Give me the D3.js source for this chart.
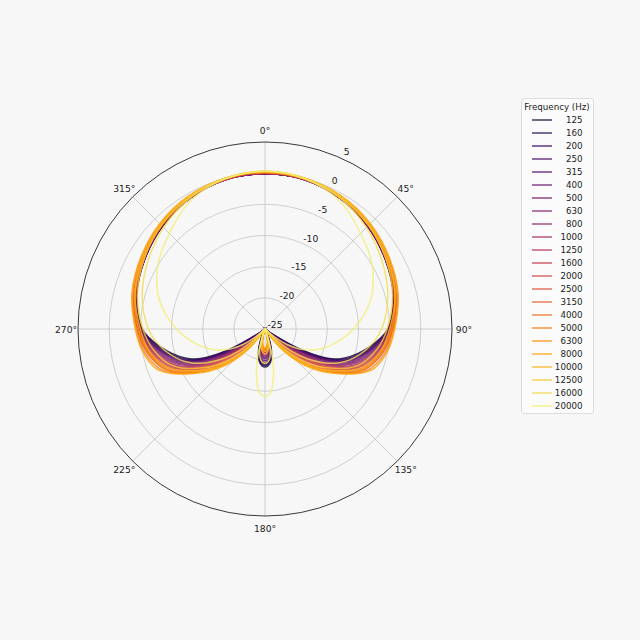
<!DOCTYPE html>
<html>
<head>
<meta charset="utf-8">
<title>Polar response</title>
<script src="https://cdn.jsdelivr.net/npm/d3@7"></script>
<style>
  html, body { margin: 0; padding: 0; background: #f7f7f7; }
  svg { display: block; }
  text { font-family: "DejaVu Sans", sans-serif; fill: #222; }
</style>
</head>
<body>
<svg width="640" height="640"></svg>
<script>
// legend entries (Hz)
const frequencies = [125, 160, 200, 250, 315, 400, 500, 630, 800, 1000, 1250, 1600,
                     2000, 2500, 3150, 4000, 5000, 6300, 8000, 10000, 12500, 16000, 20000];

// angles read on the right half (deg, clockwise from front); pattern is symmetric
const halfAngles = [0, 15, 30, 45, 60, 75, 90, 100, 110, 115, 120, 125, 130, 135, 140, 145, 150, 160, 165, 170, 175, 180];

// level in dB at each half angle (-25 = at the centre)
const f125   = [-0.1, -0.2, -0.8, -1.7, -2.7, -3.7, -5.3, -8.1, -11.4, -13.9, -18.7, -24.0, -25, -25, -25, -25, -25, -22.5, -20.9, -19.7, -19.1, -18.9];
const f160   = [-0.1, -0.2, -0.8, -1.7, -2.7, -3.7, -5.2, -7.9, -11.1, -13.6, -18.2, -23.4, -25, -25, -25, -25, -25, -22.7, -21.1, -19.9, -19.3, -19.1];
const f200   = [-0.1, -0.2, -0.8, -1.7, -2.7, -3.6, -5.2, -7.7, -10.8, -13.3, -17.6, -22.8, -25, -25, -25, -25, -25, -22.9, -21.3, -20.1, -19.5, -19.3];
const f250   = [-0.1, -0.2, -0.8, -1.6, -2.6, -3.6, -5.1, -7.5, -10.6, -13.0, -17.0, -22.0, -25, -25, -25, -25, -25, -23.1, -21.6, -20.4, -19.8, -19.6];
const f315   = [-0.1, -0.2, -0.8, -1.6, -2.6, -3.6, -5.1, -7.4, -10.4, -12.7, -16.5, -21.2, -25, -25, -25, -25, -25, -23.4, -21.9, -20.7, -20.1, -19.9];
const f400   = [-0.1, -0.2, -0.8, -1.6, -2.6, -3.5, -5.0, -7.2, -10.1, -12.3, -15.9, -20.4, -24.6, -25, -25, -25, -25, -23.6, -22.1, -21.0, -20.4, -20.2];
const f500   = [-0.1, -0.2, -0.8, -1.6, -2.6, -3.5, -4.9, -7.0, -9.8, -11.9, -15.2, -19.4, -23.6, -25, -25, -25, -25, -23.8, -22.3, -21.2, -20.6, -20.4];
const f630   = [0.0, -0.2, -0.8, -1.6, -2.6, -3.5, -4.9, -6.8, -9.5, -11.5, -14.6, -18.6, -22.8, -25, -25, -25, -25, -24.0, -22.5, -21.4, -20.8, -20.6];
const f800   = [0.0, -0.2, -0.8, -1.6, -2.6, -3.5, -4.8, -6.6, -9.2, -11.1, -14.1, -17.9, -22.0, -25, -25, -25, -25, -24.1, -22.7, -21.6, -21.0, -20.8];
const f1000  = [0.0, -0.2, -0.7, -1.6, -2.6, -3.5, -4.8, -6.4, -8.9, -10.7, -13.6, -17.2, -21.2, -25, -25, -25, -25, -24.2, -22.9, -21.8, -21.2, -21.0];
const f1250  = [0.0, -0.2, -0.7, -1.5, -2.5, -3.5, -4.8, -6.2, -8.6, -10.4, -13.1, -16.5, -20.4, -24.4, -25, -25, -25, -24.3, -23.0, -22.0, -21.4, -21.2];
const f1600  = [0.0, -0.2, -0.7, -1.5, -2.5, -3.4, -4.7, -6.0, -8.3, -10.0, -12.6, -15.9, -19.6, -23.5, -25, -25, -25, -24.4, -23.2, -22.1, -21.5, -21.3];
const f2000  = [0.1, -0.1, -0.6, -1.4, -2.4, -3.4, -4.6, -5.9, -8.0, -9.7, -12.2, -15.3, -18.8, -22.5, -25, -25, -25, -24.5, -23.3, -22.2, -21.6, -21.4];
const f2500  = [0.1, -0.1, -0.6, -1.4, -2.4, -3.3, -4.6, -5.7, -7.7, -9.3, -11.8, -14.8, -18.0, -21.6, -25, -25, -25, -24.6, -23.4, -22.3, -21.7, -21.5];
const f3150  = [0.1, -0.1, -0.6, -1.3, -2.3, -3.2, -4.5, -5.5, -7.3, -8.9, -11.3, -14.0, -16.9, -19.9, -23.2, -25, -25, -24.7, -23.5, -22.4, -21.8, -21.6];
const f4000  = [0.1, -0.1, -0.6, -1.4, -2.4, -3.3, -4.6, -5.7, -7.2, -8.7, -11.0, -13.5, -16.2, -19.0, -22.2, -25, -25, -24.6, -23.4, -22.5, -21.9, -21.7];
const f5000  = [0.2, 0.0, -0.5, -1.2, -2.1, -3.0, -4.3, -5.2, -6.8, -8.4, -10.8, -13.2, -15.6, -18.2, -21.2, -24.6, -25, -24.8, -23.7, -22.6, -22.0, -21.8];
const f6300  = [0.1, -0.1, -0.6, -1.5, -2.5, -3.4, -4.7, -5.8, -7.4, -8.9, -11.2, -13.4, -15.8, -18.3, -21.2, -24.8, -25, -24.7, -23.6, -22.5, -21.9, -21.7];
const f8000  = [0.2, 0.0, -0.4, -1.1, -2.0, -2.9, -4.2, -5.0, -6.4, -8.2, -10.6, -12.8, -15.1, -17.7, -20.7, -24.2, -25, -24.9, -23.8, -22.8, -22.2, -22.0];
const f10000 = [0.3, 0.0, -0.5, -1.3, -2.3, -3.4, -5.0, -6.0, -7.8, -9.4, -11.6, -13.6, -15.8, -18.4, -21.6, -25, -25, -24.5, -23.3, -22.2, -21.6, -21.4];
const f12500 = [0.3, 0.0, -0.6, -1.5, -2.6, -3.8, -5.4, -6.7, -8.6, -10.2, -12.4, -14.5, -16.9, -19.7, -23.0, -25, -25, -24.2, -22.9, -21.8, -21.2, -21.0];
const f16000 = [0.3, 0.0, -0.8, -2.0, -3.3, -4.6, -6.3, -8.1, -10.5, -12.1, -14.2, -16.6, -19.5, -23.0, -25, -25, -25, -23.6, -21.8, -20.4, -19.7, -19.5];
const f20000 = [0.3, -0.1, -1.2, -3.3, -5.1, -7.5, -10.8, -13.2, -15.6, -17.0, -18.6, -20.6, -23.0, -25, -25, -25, -25, -25, -20.5, -17.2, -14.8, -14.2];

const levels = [f125, f160, f200, f250, f315, f400, f500, f630, f800, f1000, f1250, f1600,
                f2000, f2500, f3150, f4000, f5000, f6300, f8000, f10000, f12500, f16000, f20000];

const radialTicks = [-25, -20, -15, -10, -5, 0, 5];
const angleTicks = [0, 45, 90, 135, 180, 225, 270, 315];

const cx = 265, cy = 329, R = 187;
const svg = d3.select("svg");

const r = d3.scaleLinear().domain([-25, 5]).range([0, R]).clamp(true);
const rad = d => d * Math.PI / 180;
const color = i => d3.interpolateInferno(0.1 + 0.85 * i / (frequencies.length - 1));

const g = svg.append("g").attr("transform", `translate(${cx},${cy})`);

// grid rings
g.selectAll(".ring").data(radialTicks.slice(1, -1)).enter().append("circle")
    .attr("r", d => r(d))
    .attr("fill", "none").attr("stroke", "#c4c4c4").attr("stroke-width", 0.8);

// spokes
g.selectAll(".spoke").data(angleTicks).enter().append("line")
    .attr("x1", 0).attr("y1", 0)
    .attr("x2", d => R * Math.sin(rad(d)))
    .attr("y2", d => -R * Math.cos(rad(d)))
    .attr("stroke", "#c4c4c4").attr("stroke-width", 0.8);

// mirror the read half onto the left side
function fullCircle(vals) {
    const pts = halfAngles.map((a, i) => ({ a: a, v: vals[i] }));
    for (let i = halfAngles.length - 2; i > 0; i--) {
        pts.push({ a: 360 - halfAngles[i], v: vals[i] });
    }
    return pts;
}

const line = d3.lineRadial()
    .angle(d => rad(d.a))
    .radius(d => r(d.v))
    .curve(d3.curveCatmullRomClosed.alpha(0.5));

g.selectAll(".curve").data(levels).enter().append("path")
    .attr("d", d => line(fullCircle(d)))
    .attr("fill", "none")
    .attr("stroke", (d, i) => color(i))
    .attr("stroke-opacity", 0.8)
    .attr("stroke-width", 1.5);

// outer frame
g.append("circle").attr("r", R)
    .attr("fill", "none").attr("stroke", "#222").attr("stroke-width", 0.9);

// radial labels along 22.5 deg
g.selectAll(".rlabel").data(radialTicks).enter().append("text")
    .attr("x", d => r(d) * Math.sin(rad(22.5)) + 10)
    .attr("y", d => -r(d) * Math.cos(rad(22.5)) - 4.5)
    .attr("text-anchor", "middle")
    .attr("dominant-baseline", "central")
    .attr("font-size", 9.2)
    .text(d => d);

// angle labels
g.selectAll(".alabel").data(angleTicks).enter().append("text")
    .attr("x", d => (R + 12) * Math.sin(rad(d)))
    .attr("y", d => -(R + 12) * Math.cos(rad(d)))
    .attr("text-anchor", "middle")
    .attr("dominant-baseline", "central")
    .attr("font-size", 9.2)
    .text(d => d + "°");

// legend
const lg = svg.append("g");
lg.append("rect")
    .attr("x", 521.5).attr("y", 98.5).attr("width", 72).attr("height", 315).attr("rx", 2.5)
    .attr("fill", "#fbfbfb").attr("stroke", "#d6d6d6").attr("stroke-width", 0.8);
lg.append("text")
    .attr("x", 557).attr("y", 107)
    .attr("text-anchor", "middle").attr("dominant-baseline", "central")
    .attr("font-size", 8.7)
    .text("Frequency (Hz)");

const ly = d3.scaleLinear().domain([0, frequencies.length - 1]).range([120, 406]);
const items = lg.selectAll(".item").data(frequencies).enter().append("g")
    .attr("transform", (d, i) => `translate(0,${ly(i)})`);
items.append("line")
    .attr("x1", 532).attr("x2", 552)
    .attr("stroke", (d, i) => color(i))
    .attr("stroke-opacity", 0.8)
    .attr("stroke-width", 1.5);
items.append("text")
    .attr("x", 582.5)
    .attr("text-anchor", "end").attr("dominant-baseline", "central")
    .attr("font-family", "DejaVu Sans Mono, monospace")
    .attr("font-size", 8.7)
    .text(d => d);
</script>
</body>
</html>
